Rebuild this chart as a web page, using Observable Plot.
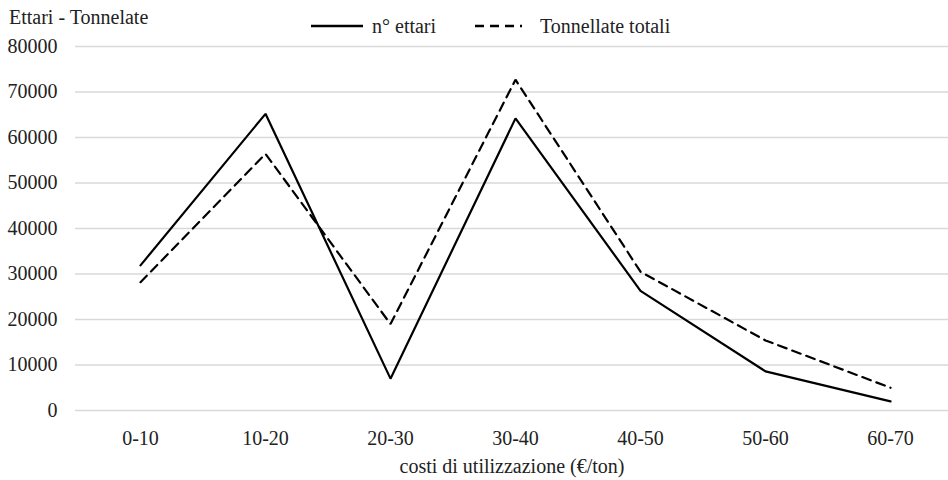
<!DOCTYPE html>
<html>
<head>
<meta charset="utf-8">
<script src="https://cdn.jsdelivr.net/npm/d3@7"></script>
<script src="https://cdn.jsdelivr.net/npm/@observablehq/plot@0.6"></script>
<style>
  body { margin: 0; background: #fff; }
  #wrap { position: relative; width: 948px; height: 480px; font-family: "Liberation Serif", "Times New Roman", serif; }
  #overlay { position: absolute; left: 0; top: 0; pointer-events: none; }
  #overlay text { font-family: "Liberation Serif", "Times New Roman", serif; font-size: 20px; fill: #222; }
</style>
</head>
<body>
<div id="wrap">
  <svg id="overlay" width="948" height="60">
    <text x="9" y="24">Ettari - Tonnelate</text>
    <line x1="311" x2="363" y1="26" y2="26" stroke="#000" stroke-width="2.4"></line>
    <text x="372" y="33">n° ettari</text>
    <line x1="475" x2="522" y1="26" y2="26" stroke="#000" stroke-width="2.4" stroke-dasharray="9,6"></line>
    <text x="540" y="33">Tonnellate totali</text>
  </svg>
</div>
<script>
const categories = ["0-10", "10-20", "20-30", "30-40", "40-50", "50-60", "60-70"];
const ettari = [31900, 65200, 7000, 64200, 26300, 8600, 2000];
const tonnellate = [28200, 56400, 19000, 72700, 30500, 15400, 5000];
const yTicks = [0, 10000, 20000, 30000, 40000, 50000, 60000, 70000, 80000];

const rowsE = categories.map((c, i) => ({cat: c, value: ettari[i]}));
const rowsT = categories.map((c, i) => ({cat: c, value: tonnellate[i]}));

const chart = Plot.plot({
  width: 948,
  height: 480,
  marginLeft: 75,
  marginRight: 0,
  marginTop: 46,
  marginBottom: 70,
  style: {fontFamily: '"Liberation Serif", "Times New Roman", serif', fontSize: "20px", color: "#222", background: "#fff"},
  x: {type: "point", domain: categories, range: [138, 891], padding: 0, label: null},
  y: {domain: [0, 80000], label: null},
  marks: [
    Plot.gridY(yTicks, {stroke: "#d9d9d9", strokeOpacity: 1, strokeWidth: 1.4}),
    Plot.axisY(yTicks, {tickSize: 0, tickPadding: 18, tickFormat: d => String(d), label: null}),
    Plot.axisX({tickSize: 0, tickPadding: 20, label: "costi di utilizzazione (€/ton)", labelAnchor: "center", labelArrow: "none", labelOffset: 62}),
    Plot.line(rowsT, {x: "cat", y: "value", stroke: "#000", strokeWidth: 2.2, strokeDasharray: "9,6", strokeLinejoin: "miter"}),
    Plot.line(rowsE, {x: "cat", y: "value", stroke: "#000", strokeWidth: 2.2, strokeLinejoin: "miter"})
  ]
});
document.getElementById("wrap").insertBefore(chart, document.getElementById("overlay"));
</script>
</body>
</html>
